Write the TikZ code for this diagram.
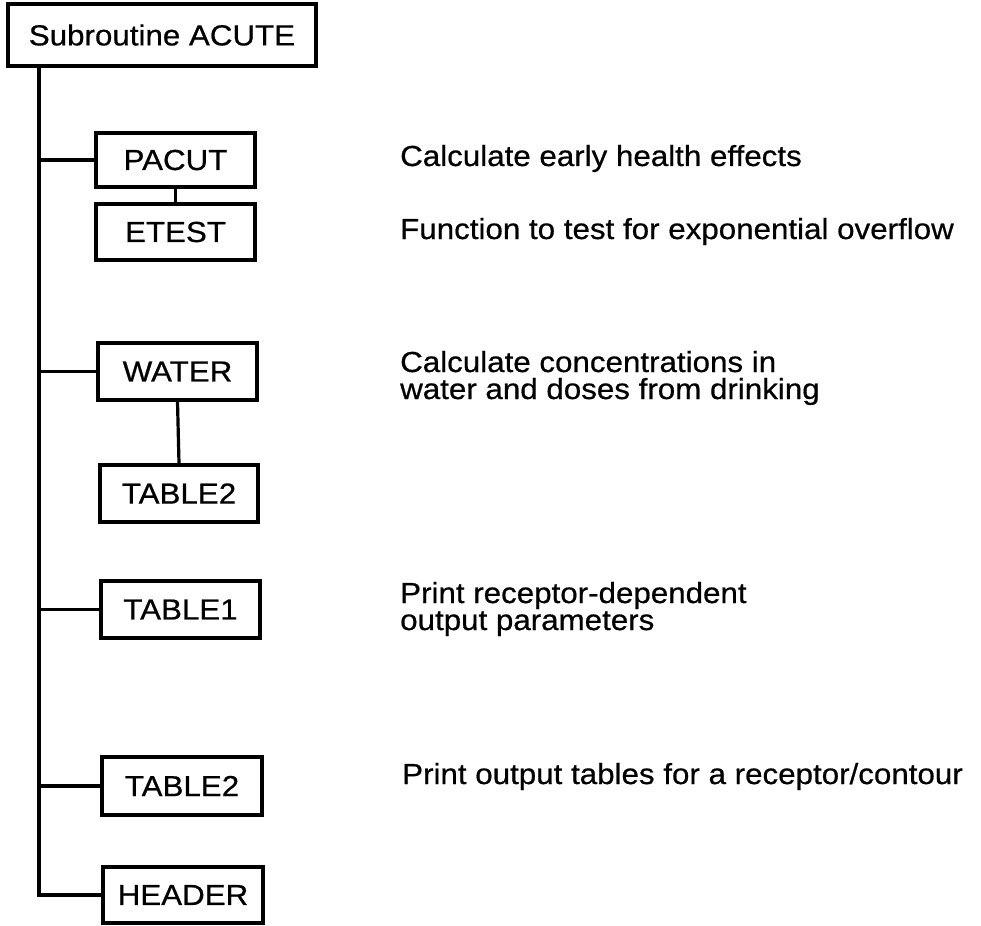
\documentclass[tikz,border=0pt]{standalone}
\usepackage{fontspec}
\setmainfont{Liberation Sans}[FakeStretch=1.08,FakeBold=0.6]
\begin{document}
\begin{tikzpicture}[x=1pt,y=-1pt,
  every node/.style={font=\fontsize{29}{27}\selectfont},
  modbox/.style={draw,line width=3.2pt,minimum width=159pt,minimum height=57pt,inner sep=0pt},
  link/.style={line width=3.2pt},
  desc/.style={anchor=base west,align=left,inner sep=0pt}]
\useasboundingbox (0,0) rectangle (981,925);

% calling routine
\node[modbox,minimum width=308pt,minimum height=62pt] (acute) at (162,35) {Subroutine ACUTE};

% called routines
\node[modbox,minimum height=54pt] (pacut) at (175.5,160) {PACUT};
\node[modbox,minimum height=56pt] (etest) at (175.5,232) {ETEST};
\node[modbox,minimum height=57pt] (water) at (177.5,371.5) {WATER};
\node[modbox,minimum width=158pt] (tabA) at (179,493.5) {TABLE2};
\node[modbox] (tab1) at (180.5,609.5) {TABLE1};
\node[modbox,minimum width=160pt,minimum height=58pt] (tabB) at (182,786) {TABLE2};
\node[modbox,minimum width=160pt,minimum height=56pt] (header) at (183,895) {HEADER};

% main call line
\coordinate (trunktop) at (39,66);
\draw[link] (trunktop) |- (header.west);
\foreach \n in {pacut,water,tab1,tabB}
  \draw[link] (\n.west) -- (\n.west -| trunktop);

% nested calls
\draw[link] (pacut.south) -- (etest.north);
\draw[link] (water.south) -- (tabA.north);

% descriptions (base = baseline of the last line)
\node[desc] (d1) at (400,166) {Calculate early health effects};
\node[desc] (d2) at (400,239) {Function to test for exponential overflow};
\node[desc] (d3) at (400,399) {Calculate concentrations in\\water and doses from drinking};
\node[desc] (d4) at (400,630) {Print receptor-dependent\\output parameters};
\node[desc] (d5) at (402,784) {Print output tables for a receptor/contour};
\end{tikzpicture}
\end{document}
